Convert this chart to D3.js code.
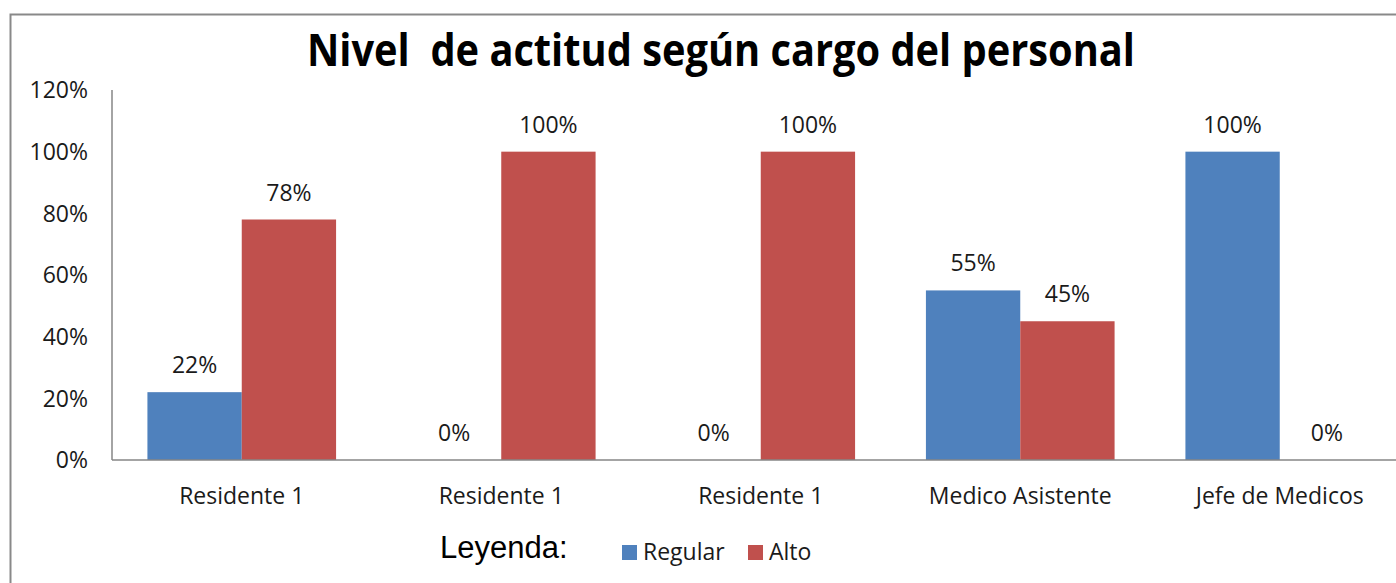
<!DOCTYPE html>
<html>
<head>
<meta charset="utf-8">
<script src="https://cdn.jsdelivr.net/npm/d3@7"></script>
<style>
  body { margin: 0; background: #fff; }
  text { font-family: "Open Sans", sans-serif; fill: #1a1a1a; }
</style>
</head>
<body>
<div id="chart"></div>
<script>
var categories = ["Residente 1", "Residente 1", "Residente 1", "Medico Asistente", "Jefe de Medicos"];
var seriesNames = ["Regular", "Alto"];
var regular = [0.22, 0, 0, 0.55, 1.00];
var alto = [0.78, 1.00, 1.00, 0.45, 0];
var yTicks = [0, 0.2, 0.4, 0.6, 0.8, 1.0, 1.2];
var colors = ["#4f81bd", "#c0504d"];

var fullWidth = 1396, fullHeight = 583;
var margin = {top: 90, left: 112, bottom: 123};
var plotWidth = 1297.5, plotHeight = fullHeight - margin.top - margin.bottom;

var svg = d3.select("#chart").append("svg")
    .attr("width", fullWidth)
    .attr("height", fullHeight);

// outer chart border (cut at right/bottom like the source)
svg.append("rect")
    .attr("x", 10.5).attr("y", 14.5)
    .attr("width", 1400).attr("height", 600)
    .attr("fill", "none")
    .attr("stroke", "#898989")
    .attr("stroke-width", 2);

svg.append("text")
    .attr("x", 721).attr("y", 66)
    .attr("text-anchor", "middle")
    .attr("font-size", 44)
    .attr("font-weight", "bold")
    .attr("textLength", 828)
    .attr("lengthAdjust", "spacingAndGlyphs")
    .style("white-space", "pre")
    .style("fill", "#000")
    .text("Nivel  de actitud según cargo del personal");

var g = svg.append("g")
    .attr("transform", "translate(" + margin.left + "," + margin.top + ")");

var y = d3.scaleLinear().domain([0, 1.2]).range([plotHeight, 0]);

var x0 = d3.scaleBand()
    .domain(d3.range(categories.length))
    .range([0, plotWidth])
    .paddingInner(0).paddingOuter(0);

var x1 = d3.scaleBand()
    .domain(seriesNames)
    .range([x0.bandwidth() * 0.1365, x0.bandwidth() * (1 - 0.1365)]);

var fmt = d3.format(".0%");

// y axis labels
g.selectAll(".ytick")
    .data(yTicks)
    .enter().append("text")
    .attr("class", "ytick")
    .attr("x", -24)
    .attr("y", function(d) { return y(d); })
    .attr("dy", "0.36em")
    .attr("text-anchor", "end")
    .attr("font-size", 23)
    .text(fmt);

var data = categories.map(function(c, i) {
  return [
    {cat: i, key: "Regular", value: regular[i]},
    {cat: i, key: "Alto", value: alto[i]}
  ];
});

var groups = g.selectAll(".grp")
    .data(data)
    .enter().append("g")
    .attr("class", "grp")
    .attr("transform", function(d, i) { return "translate(" + x0(i) + ",0)"; });

groups.selectAll("rect")
    .data(function(d) { return d; })
    .enter().append("rect")
    .attr("x", function(d) { return x1(d.key); })
    .attr("y", function(d) { return y(d.value); })
    .attr("width", x1.bandwidth())
    .attr("height", function(d) { return plotHeight - y(d.value); })
    .attr("fill", function(d, i) { return colors[i]; });

groups.selectAll(".lbl")
    .data(function(d) { return d; })
    .enter().append("text")
    .attr("class", "lbl")
    .attr("x", function(d) { return x1(d.key) + x1.bandwidth() / 2; })
    .attr("y", function(d) { return y(d.value) - 19; })
    .attr("text-anchor", "middle")
    .attr("font-size", 23)
    .text(function(d) { return fmt(d.value); });

// axes lines
g.append("line")
    .attr("x1", 0).attr("x2", 0)
    .attr("y1", y(1.2)).attr("y2", plotHeight)
    .attr("stroke", "#868686").attr("stroke-width", 1.5);
g.append("line")
    .attr("x1", 0).attr("x2", plotWidth)
    .attr("y1", plotHeight).attr("y2", plotHeight)
    .attr("stroke", "#868686").attr("stroke-width", 1.5);

// category labels
g.selectAll(".xlbl")
    .data(categories)
    .enter().append("text")
    .attr("class", "xlbl")
    .attr("x", function(d, i) { return x0(i) + x0.bandwidth() / 2; })
    .attr("y", plotHeight + 44)
    .attr("text-anchor", "middle")
    .attr("font-size", 23)
    .text(function(d) { return d; });

// legend
svg.append("text")
    .attr("x", 440).attr("y", 558)
    .attr("font-size", 31)
    .style("font-family", "'Liberation Sans', Arial, sans-serif")
    .style("fill", "#000")
    .text("Leyenda:");

var legend = svg.selectAll(".leg")
    .data(seriesNames)
    .enter().append("g")
    .attr("class", "leg")
    .attr("transform", function(d, i) { return "translate(" + [622, 748][i] + ",545)"; });

legend.append("rect")
    .attr("width", 15).attr("height", 15)
    .attr("fill", function(d, i) { return colors[i]; });

legend.append("text")
    .attr("x", 21).attr("y", 15)
    .attr("font-size", 23)
    .text(function(d) { return d; });
</script>
</body>
</html>
